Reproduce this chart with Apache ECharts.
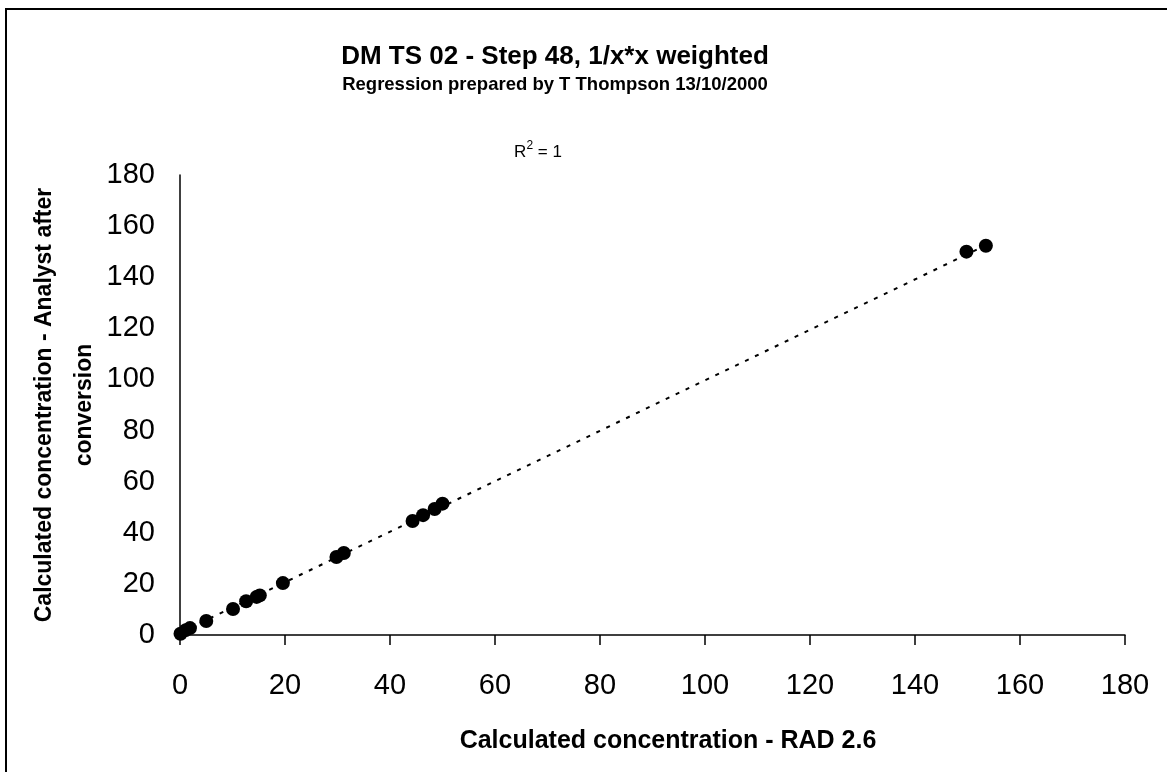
<!DOCTYPE html>
<html>
<head>
<meta charset="utf-8">
<script src="https://cdn.jsdelivr.net/npm/echarts@6/dist/echarts.min.js"></script>
<style>
  html, body { margin: 0; padding: 0; background: #fff; }
  #chart { width: 1167px; height: 772px; }
</style>
</head>
<body>
<div id="chart"></div>
<script>
// values
var xVals = [0.1, 1.1, 1.9, 5, 10.1, 12.6, 14.6, 15.2, 19.6, 29.8, 31.2, 44.3, 46.3, 48.5, 50, 149.8, 153.5];
var yVals = [0.5, 1.9, 2.7, 5.5, 10.2, 13.2, 14.9, 15.5, 20.3, 30.5, 32.1, 44.6, 46.9, 49.3, 51.4, 150.0, 152.3];
// trendline end points
var trendX = [0, 153.5];
var trendY = [0.9, 152.5];

var titleText = 'DM TS 02 - Step 48, 1/x*x weighted';
var subText = 'Regression prepared by T Thompson 13/10/2000';
var xName = 'Calculated concentration - RAD 2.6';
var yName = 'Calculated concentration - Analyst after\nconversion';

var pts = xVals.map(function (x, i) { return [x, yVals[i]]; });
var trend = trendX.map(function (x, i) { return [x, trendY[i]]; });

var font = '"Liberation Sans", Arial, sans-serif';
function txt(x, y, text, size, weight, extra) {
  var s = {
    text: text, fontSize: size, fontWeight: weight, fontFamily: font,
    fill: '#000', textAlign: 'center', textVerticalAlign: 'middle'
  };
  if (extra) { for (var k in extra) s[k] = extra[k]; }
  return { type: 'text', x: x, y: y, style: s, silent: true };
}

var yTitle = txt(65, 405, yName, 23, 'bold', { lineHeight: 40 });
yTitle.rotation = Math.PI / 2;

var chart = echarts.init(document.getElementById('chart'));
chart.setOption({
  backgroundColor: '#fff',
  animation: false,
  grid: { left: 180, right: 42, top: 175, bottom: 137 },
  xAxis: {
    type: 'value',
    min: 0, max: 180, interval: 20,
    axisLine: { show: true, onZero: false, lineStyle: { color: '#000', width: 1.5 } },
    axisTick: { show: true, length: 10, lineStyle: { color: '#000', width: 1.5 } },
    axisLabel: { color: '#000', fontSize: 29, fontFamily: font, margin: 36 },
    splitLine: { show: false }
  },
  yAxis: {
    type: 'value',
    min: 0, max: 180, interval: 20,
    axisLine: { show: true, onZero: false, lineStyle: { color: '#000', width: 1.5 } },
    axisTick: { show: false },
    axisLabel: { color: '#000', fontSize: 29, fontFamily: font, margin: 25, padding: [10, 0, 0, 0] },
    splitLine: { show: false }
  },
  series: [
    {
      type: 'line',
      data: trend,
      symbol: 'none',
      lineStyle: { color: '#000', width: 2, type: [4, 7] },
      z: 2
    },
    {
      type: 'scatter',
      data: pts,
      symbol: 'circle',
      symbolSize: 14,
      itemStyle: { color: '#000', opacity: 1 },
      z: 3
    }
  ],
  graphic: [
    {
      type: 'rect',
      shape: { x: 6, y: 9, width: 1300, height: 900 },
      style: { fill: 'none', stroke: '#000', lineWidth: 2 },
      silent: true
    },
    txt(555, 57, titleText, 26, 'bold'),
    txt(555, 85, subText, 18.5, 'bold'),
    txt(538, 152, 'R{s|2} = 1', 17, 'normal', {
      rich: { s: { fontSize: 12, fontFamily: font, verticalAlign: 'top', padding: [0, 0, 12, 0] } }
    }),
    txt(668, 741, xName, 25, 'bold'),
    yTitle
  ]
});
</script>
</body>
</html>
